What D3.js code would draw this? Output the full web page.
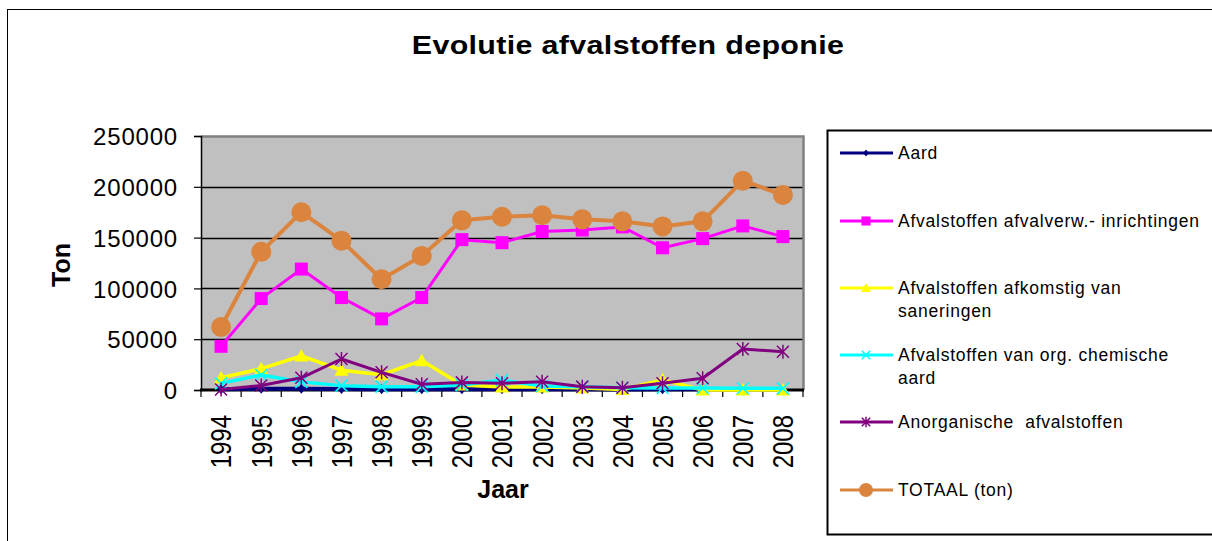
<!DOCTYPE html>
<html><head><meta charset="utf-8">
<script src="https://cdn.jsdelivr.net/npm/d3@7"></script>
<style>body{margin:0;background:#fff}svg{display:block;font-family:"Liberation Sans",Arial,sans-serif}</style>
</head><body><svg id="c" width="1212" height="541"></svg>
<script>
const years = ["1994","1995","1996","1997","1998","1999","2000","2001","2002","2003","2004","2005","2006","2007","2008"];
const aard = [800,1200,1200,1000,800,800,800,700,800,700,600,800,700,700,600];
const inrichtingen = [43000,90000,119000,91000,70000,91000,148000,145000,156000,157500,160500,140000,149000,161500,151000];
const saneringen = [12000,21000,33500,19500,15000,29000,5000,3000,3000,2000,500,10000,0,0,0];
const chemisch = [6500,14800,8000,4300,3300,3300,5000,9800,4000,3300,2300,2000,2000,1800,1600];
const anorganisch = [500,4500,12000,30500,17400,5600,7500,6600,8200,3300,2300,6600,11500,40300,37700];
const totaal = [62000,136000,175000,147000,109000,132000,167000,170500,172000,168000,166000,161000,166000,206000,192000];
const yTicks = [0,50000,100000,150000,200000,250000];
const seriesNames = ["Aard","Afvalstoffen afvalverw.- inrichtingen","Afvalstoffen afkomstig van|saneringen","Afvalstoffen van org. chemische|aard","Anorganische  afvalstoffen","TOTAAL (ton)"];

const series = [
  {name:seriesNames[0], values:aard, color:"#000080", w:4, marker:"diamond"},
  {name:seriesNames[1], values:inrichtingen, color:"#FF00FF", w:3, marker:"square"},
  {name:seriesNames[2], values:saneringen, color:"#FFFF00", w:3.5, marker:"triangle"},
  {name:seriesNames[3], values:chemisch, color:"#00FFFF", w:3.5, marker:"x"},
  {name:seriesNames[4], values:anorganisch, color:"#800080", w:3, marker:"star"},
  {name:seriesNames[5], values:totaal, color:"#DA843E", w:4, marker:"circle"}
];

const svg = d3.select("#c");
const L=201, R=803, T=136, B=390;
const x = d3.scaleBand().domain(years).range([L,R]);
const y = d3.scaleLinear().domain([0,250000]).range([B,T]);

// outer frame
svg.append("rect").attr("x",7.5).attr("y",9.5).attr("width",1220).attr("height",540).attr("fill","none").attr("stroke","#000").attr("stroke-width",1);

// title
svg.append("text").attr("transform","translate(628,54) scale(1.17,1)").attr("text-anchor","middle").attr("font-weight","bold").attr("font-size",26)
  .attr("letter-spacing",0.3).text("Evolutie afvalstoffen deponie");

// plot area
svg.append("rect").attr("x",L).attr("y",T).attr("width",R-L).attr("height",B-T).attr("fill","#C0C0C0");
// gridlines
svg.append("g").selectAll("line").data(yTicks.filter(d=>d>0&&d<250000)).join("line")
  .attr("x1",L).attr("x2",R).attr("y1",d=>Math.round(y(d))+0.5).attr("y2",d=>Math.round(y(d))+0.5).attr("stroke","#000").attr("stroke-width",1.5);
// plot border top/right
svg.append("path").attr("d",`M${L},${T+0.5}H${R+0.5}V${B}`).attr("fill","none").attr("stroke","#808080").attr("stroke-width",2.5);

// y axis
const yAxis = d3.axisLeft(y).tickValues(yTicks).tickSize(7).tickFormat(d3.format("d"));
const gy = svg.append("g").attr("transform",`translate(${L},0)`).call(yAxis);
gy.select(".domain").attr("stroke","#000").attr("stroke-width",1.5);
gy.selectAll(".tick line").attr("stroke","#000").attr("stroke-width",1.2);
gy.selectAll(".tick text").attr("font-size",24).attr("font-family","Liberation Sans, Arial").attr("fill","#000")
  .attr("letter-spacing",0.8).attr("x",-23).attr("dy","0.36em");

// x axis
const xAxis = d3.axisBottom(x).tickSize(0);
const gx = svg.append("g").attr("transform",`translate(0,${B})`).call(xAxis);
gx.select(".domain").remove();
gx.selectAll(".tick text").attr("font-size",24).attr("font-family","Liberation Sans, Arial").attr("fill","#000")
  .attr("transform","rotate(-90) scale(1,1.2)").attr("text-anchor","end").attr("x",-25).attr("y",0).attr("dy","0.36em");
// category boundary ticks
const bounds = years.map(d=>x(d)).concat([R]);
svg.append("g").selectAll("line").data(bounds).join("line")
  .attr("x1",d=>d).attr("x2",d=>d).attr("y1",B).attr("y2",B+7).attr("stroke","#000").attr("stroke-width",1.2);
svg.append("line").attr("x1",L-1).attr("x2",R+1).attr("y1",B).attr("y2",B).attr("stroke","#000").attr("stroke-width",3);

// axis titles
svg.append("text").attr("transform","translate(70,265) rotate(-90)").attr("text-anchor","middle").attr("font-weight","bold").attr("font-size",25).text("Ton");
svg.append("text").attr("x",503).attr("y",498).attr("text-anchor","middle").attr("font-weight","bold").attr("font-size",25).text("Jaar");

// markers
function drawMarker(g, type, cx, cy, color, s){
  s = s||1;
  if(type==="diamond"){
    g.append("path").attr("d",`M${cx},${cy-5*s}L${cx+4*s},${cy}L${cx},${cy+5*s}L${cx-4*s},${cy}Z`).attr("fill",color);
  } else if(type==="square"){
    const h=6.5*s; g.append("rect").attr("x",cx-h).attr("y",cy-h).attr("width",2*h).attr("height",2*h).attr("fill",color);
  } else if(type==="triangle"){
    const h=7*s; g.append("path").attr("d",`M${cx},${cy-h}L${cx+h},${cy+h*0.8}L${cx-h},${cy+h*0.8}Z`).attr("fill",color);
  } else if(type==="x"){
    const h=6*s; g.append("path").attr("d",`M${cx-h},${cy-h}L${cx+h},${cy+h}M${cx+h},${cy-h}L${cx-h},${cy+h}`).attr("stroke",color).attr("stroke-width",1.5);
  } else if(type==="star"){
    const h=6*s; g.append("path").attr("d",`M${cx-h},${cy-h}L${cx+h},${cy+h}M${cx+h},${cy-h}L${cx-h},${cy+h}M${cx},${cy-h-1}L${cx},${cy+h+1}`).attr("stroke",color).attr("stroke-width",1.5);
  } else if(type==="circle"){
    g.append("circle").attr("cx",cx).attr("cy",cy).attr("r",10*s).attr("fill",color);
  }
}

const line = d3.line().x((d,i)=>x(years[i])+x.bandwidth()/2).y(d=>y(d));
const gl = svg.append("g");
series.forEach(s=>{
  const g = gl.append("g");
  g.append("path").attr("d",line(s.values)).attr("fill","none").attr("stroke",s.color).attr("stroke-width",s.w).attr("stroke-linejoin","round");
  s.values.forEach((v,i)=>drawMarker(g,s.marker,x(years[i])+x.bandwidth()/2,y(v),s.color));
});

// legend
svg.append("rect").attr("x",827.5).attr("y",130.5).attr("width",400).attr("height",404).attr("fill","#fff").attr("stroke","#000").attr("stroke-width",2);
const legendY = [153,221,288,355,422,490];
series.forEach((s,i)=>{
  const g = svg.append("g");
  const ly = legendY[i];
  g.append("line").attr("x1",840).attr("x2",893).attr("y1",ly).attr("y2",ly).attr("stroke",s.color).attr("stroke-width",3);
  drawMarker(g,s.marker,866,ly,s.color,0.7);
  const parts = s.name.split("|");
  parts.forEach((p,j)=>{
    g.append("text").attr("x",898).attr("y",ly+j*23).attr("dy","0.36em").attr("font-size",17.5).attr("letter-spacing",0.75)
      .attr("xml:space","preserve").style("white-space","pre").text(p);
  });
});
</script></body></html>
